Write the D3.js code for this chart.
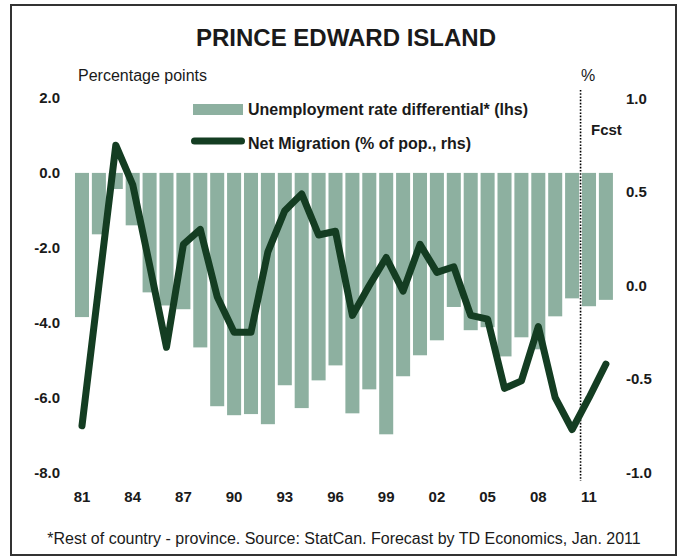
<!DOCTYPE html>
<html>
<head>
<meta charset="utf-8">
<script src="https://cdn.jsdelivr.net/npm/d3@7"></script>
<style>
  html, body { margin: 0; padding: 0; background: #fff; }
  svg { display: block; font-family: "Liberation Sans", Arial, sans-serif; }
</style>
</head>
<body>
<svg id="chart" width="682" height="558"></svg>
<script>
const years = d3.range(1981, 2013);
const unemploymentDiff = [
  -3.85, -1.64, -0.43, -1.40, -3.19, -3.54, -3.64, -4.66, -6.23, -6.47,
  -6.44, -6.71, -5.67, -6.28, -5.54, -5.14, -6.42, -5.78, -6.98, -5.43,
  -4.87, -4.47, -3.58, -4.20, -4.12, -4.90, -4.39, -4.71, -3.83, -3.35,
  -3.56, -3.39
];
const netMigration = [
  -0.75, 0.00, 0.75, 0.54, 0.11, -0.33, 0.22, 0.30, -0.06, -0.25,
  -0.25, 0.18, 0.40, 0.49, 0.27, 0.29, -0.16, 0.00, 0.15, -0.03,
  0.22, 0.07, 0.10, -0.16, -0.18, -0.55, -0.51, -0.22, -0.60, -0.77,
  -0.60, -0.42
];
const leftTicks = [2, 0, -2, -4, -6, -8];
const rightTicks = [1, 0.5, 0, -0.5, -1];
const yearTicks = [1981, 1984, 1987, 1990, 1993, 1996, 1999, 2002, 2005, 2008, 2011];
const forecastStart = 2011;

const title = "PRINCE EDWARD ISLAND";
const leftUnit = "Percentage points";
const rightUnit = "%";
const legendBars = "Unemployment rate differential* (lhs)";
const legendLine = "Net Migration (% of pop., rhs)";
const fcstLabel = "Fcst";
const footnote = "*Rest of country - province. Source: StatCan. Forecast by TD Economics, Jan. 2011";

const barColor = "#8db0a0";
const lineColor = "#143d22";
const textColor = "#1a1a1a";

const svg = d3.select("#chart");

// frame
svg.append("rect").attr("x", 11).attr("y", 5).attr("width", 665).attr("height", 550)
  .attr("fill", "#fff").attr("stroke", "#333").attr("stroke-width", 2);

const x = d3.scaleBand().domain(years).range([72.1, 615.8]).paddingInner(0.17).paddingOuter(0.17);
const yL = d3.scaleLinear().domain([-8, 2]).range([472.5, 98]);
const yR = d3.scaleLinear().domain([-1, 1]).range([472.5, 98.5]);
const cx = d => x(d) + x.bandwidth() / 2;

// bars
svg.append("g").selectAll("rect").data(years).join("rect")
  .attr("x", d => x(d))
  .attr("width", x.bandwidth())
  .attr("y", (d, i) => yL(Math.max(0, unemploymentDiff[i])))
  .attr("height", (d, i) => Math.abs(yL(unemploymentDiff[i]) - yL(0)))
  .attr("fill", barColor);

// forecast divider
const divX = (x(forecastStart - 1) + x.bandwidth() + x(forecastStart)) / 2;
svg.append("line").attr("x1", divX).attr("x2", divX).attr("y1", 90).attr("y2", 481)
  .attr("stroke", "#000").attr("stroke-width", 1.6).attr("stroke-dasharray", "1.6,1.6");

// line
const line = d3.line().x((d, i) => cx(years[i])).y(d => yR(d));
svg.append("path").datum(netMigration).attr("d", line)
  .attr("fill", "none").attr("stroke", lineColor).attr("stroke-width", 7)
  .attr("stroke-linejoin", "round").attr("stroke-linecap", "round");

// axes
const fmt = d => d.toFixed(1);
const gL = svg.append("g").attr("transform", "translate(60,0)")
  .call(d3.axisLeft(yL).tickValues(leftTicks).tickFormat(fmt).tickSize(0).tickPadding(0));
const gR = svg.append("g").attr("transform", "translate(626,0)")
  .call(d3.axisRight(yR).tickValues(rightTicks).tickFormat(fmt).tickSize(0).tickPadding(0));
const gB = svg.append("g").attr("transform", "translate(0,491)")
  .call(d3.axisBottom(x).tickValues(yearTicks).tickFormat(d => String(d).slice(2)).tickSize(0).tickPadding(0));
[gL, gR, gB].forEach(g => {
  g.select(".domain").remove();
  g.selectAll("text").attr("font-family", "Liberation Sans, Arial, sans-serif")
    .attr("font-size", 15).attr("font-weight", "bold").attr("fill", textColor);
});

// titles
svg.append("text").attr("x", 346).attr("y", 46).attr("text-anchor", "middle")
  .attr("font-size", 24).attr("font-weight", "bold").attr("fill", textColor).text(title);
svg.append("text").attr("x", 78).attr("y", 81).attr("font-size", 16).attr("fill", textColor).text(leftUnit);
svg.append("text").attr("x", 581).attr("y", 81).attr("font-size", 16).attr("fill", textColor).text(rightUnit);
svg.append("text").attr("x", 591).attr("y", 135).attr("font-size", 15).attr("font-weight", "bold").attr("fill", textColor).text(fcstLabel);

// legend
svg.append("rect").attr("x", 193).attr("y", 104).attr("width", 50).attr("height", 11).attr("fill", barColor);
svg.append("text").attr("x", 248).attr("y", 115).attr("font-size", 16).attr("font-weight", "bold").attr("fill", textColor).text(legendBars);
svg.append("line").attr("x1", 194.5).attr("x2", 241.5).attr("y1", 141).attr("y2", 141)
  .attr("stroke", lineColor).attr("stroke-width", 7).attr("stroke-linecap", "round");
svg.append("text").attr("x", 248).attr("y", 149).attr("font-size", 16).attr("font-weight", "bold").attr("fill", textColor).text(legendLine);

// footnote
svg.append("text").attr("x", 344).attr("y", 544).attr("text-anchor", "middle")
  .attr("font-size", 16).attr("fill", textColor).text(footnote);
</script>
</body>
</html>
